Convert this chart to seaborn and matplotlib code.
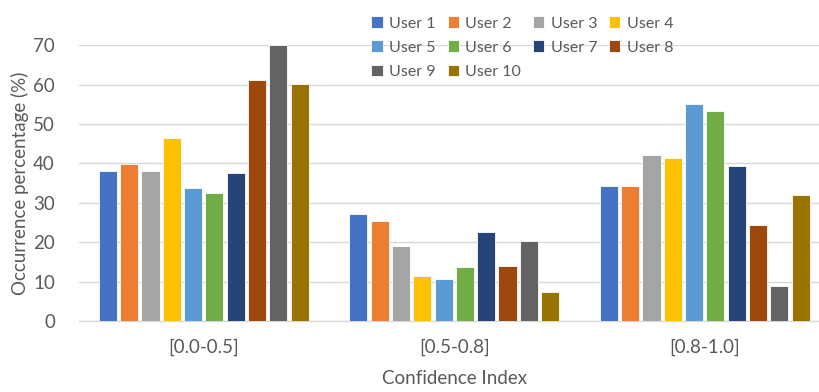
import matplotlib
matplotlib.use("Agg")
import matplotlib.pyplot as plt
import seaborn as sns
import pandas as pd

categories = ["[0.0-0.5]", "[0.5-0.8]", "[0.8-1.0]"]
users = ["User 1", "User 2", "User 3", "User 4", "User 5",
         "User 6", "User 7", "User 8", "User 9", "User 10"]
bin_00_05 = [38.0, 39.9, 38.2, 46.4, 33.8, 32.6, 37.6, 61.2, 70.0, 60.3]
bin_05_08 = [27.1, 25.3, 19.0, 11.5, 10.7, 13.6, 22.5, 13.9, 20.4, 7.4]
bin_08_10 = [34.4, 34.4, 42.2, 41.5, 55.1, 53.3, 39.4, 24.4, 9.0, 32.0]
colors = ["#4472C4", "#ED7D31", "#A5A5A5", "#FFC000", "#5B9BD5",
          "#70AD47", "#264478", "#9E480E", "#636363", "#997300"]

rows = []
for cat, vals in zip(categories, [bin_00_05, bin_05_08, bin_08_10]):
    for u, v in zip(users, vals):
        rows.append({"Confidence Index": cat, "User": u, "Value": v})
df = pd.DataFrame(rows)

sns.set_theme(style="white")
plt.rcParams["font.family"] = ["Lato", "DejaVu Sans"]
text_color = "#595959"

fig = plt.figure(figsize=(8.19, 3.92), dpi=100)
ax = fig.add_axes([78.5 / 819, 71 / 392, (830 - 78.5) / 819, (321 - 45.3) / 392])

sns.barplot(data=df, x="Confidence Index", y="Value", hue="User",
            order=categories, hue_order=users, palette=colors,
            width=0.85, gap=0.15, edgecolor="white", linewidth=0.6,
            saturation=1, ax=ax, zorder=3)

ax.set_ylim(0, 70)
ax.set_yticks(range(0, 71, 10))
ax.set_xlim(-0.5, 2.5)
ax.yaxis.grid(True, color="#D9D9D9", linewidth=1.0, zorder=0)
ax.set_axisbelow(True)
for s in ["top", "right", "left"]:
    ax.spines[s].set_visible(False)
ax.spines["bottom"].set_color("#D9D9D9")
ax.spines["bottom"].set_linewidth(1.0)
ax.tick_params(axis="both", length=0, labelsize=13.5, colors=text_color)
ax.tick_params(axis="y", pad=17)
ax.tick_params(axis="x", pad=13)
ax.set_ylabel("Occurrence percentage (%)", fontsize=13.5, color=text_color, labelpad=3)
ax.set_xlabel("Confidence Index", fontsize=13.5, color=text_color, labelpad=10)

handles, labels = ax.get_legend_handles_labels()
order = [0, 4, 8, 1, 5, 9, 2, 6, 3, 7]
ax.legend([handles[i] for i in order], [labels[i] for i in order],
          ncol=4, frameon=False, fontsize=11.5,
          loc="upper left", bbox_to_anchor=(357 / 819, 1 - 2 / 392),
          bbox_transform=fig.transFigure,
          handlelength=0.7, handleheight=0.7, handletextpad=0.4,
          columnspacing=0.75, labelspacing=0.62, labelcolor=text_color)

fig.savefig("out.png", dpi=100)
